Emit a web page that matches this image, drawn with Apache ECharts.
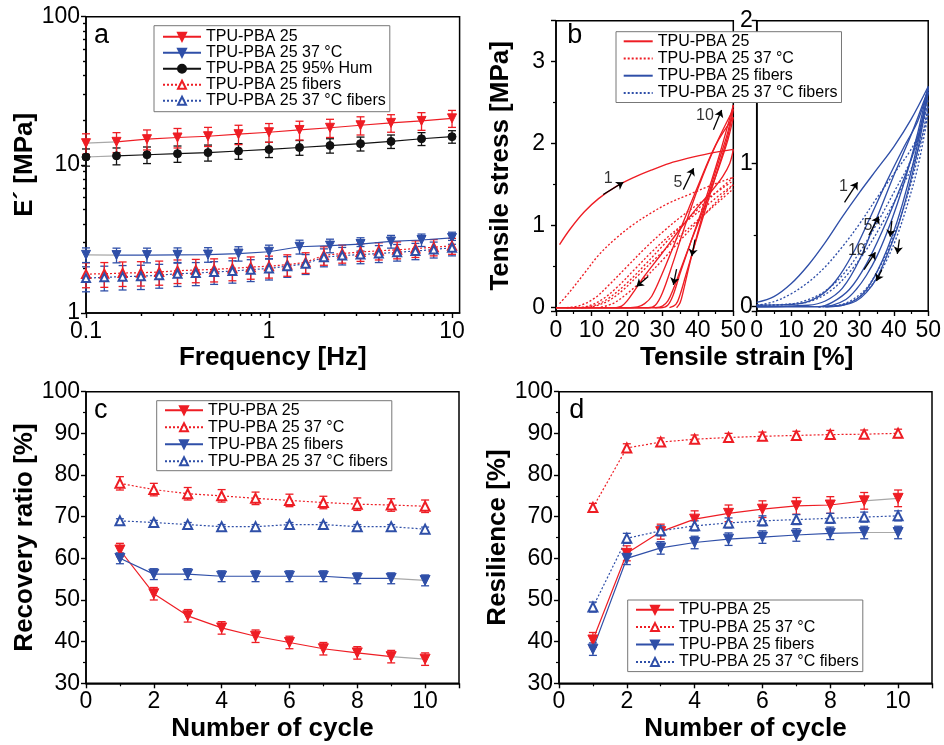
<!DOCTYPE html>
<html><head><meta charset="utf-8">
<script src="https://cdn.jsdelivr.net/npm/echarts@6/dist/echarts.min.js"></script>
<style>html,body{margin:0;padding:0;background:#fff}#c{width:944px;height:745px}</style>
</head><body><div id="c"></div>
<script>
// ---------- Panel a : E' vs frequency ----------
const freqA = [0.1, 0.1468, 0.2154, 0.3162, 0.4642, 0.6813, 1, 1.468, 2.154, 3.162, 4.642, 6.813, 10];
const freqFib = [0.1, 0.1259, 0.1585, 0.1995, 0.2512, 0.3162, 0.3981, 0.5012, 0.631, 0.7943, 1, 1.259, 1.585, 1.995, 2.512, 3.162, 3.981, 5.012, 6.31, 7.943, 10];
const aPBA25 = [14.0, 14.3, 14.9, 15.3, 15.6, 16.1, 16.6, 17.2, 17.8, 18.5, 19.2, 19.8, 20.6];
const aPBA25Err = [2.2, 2.2, 2.3, 2.3, 2.3, 2.4, 2.4, 2.5, 2.5, 2.6, 2.6, 2.7, 2.7];
const aPBA25_37 = [2.47, 2.46, 2.46, 2.47, 2.48, 2.52, 2.59, 2.80, 2.85, 2.92, 3.04, 3.11, 3.21];
const aPBA25_37Err = [0.28, 0.28, 0.28, 0.28, 0.28, 0.28, 0.28, 0.3, 0.3, 0.3, 0.3, 0.3, 0.3];
const aHum = [11.3, 11.5, 11.7, 11.9, 12.1, 12.4, 12.7, 13.1, 13.5, 13.9, 14.4, 15.0, 15.5];
const aHumErr = [1.5, 1.5, 1.5, 1.5, 1.5, 1.5, 1.5, 1.5, 1.5, 1.5, 1.5, 1.5, 1.5];
const aFib = [1.83, 1.84, 1.86, 1.87, 1.89, 1.93, 1.95, 1.97, 2.0, 2.04, 2.07, 2.12, 2.2, 2.45, 2.52, 2.58, 2.63, 2.67, 2.72, 2.78, 2.84];
const aFibErr = [0.35, 0.35, 0.35, 0.35, 0.35, 0.35, 0.35, 0.35, 0.35, 0.35, 0.35, 0.35, 0.35, 0.35, 0.35, 0.35, 0.35, 0.35, 0.35, 0.35, 0.35];
const aFib37 = [1.72, 1.74, 1.76, 1.77, 1.8, 1.84, 1.86, 1.89, 1.92, 1.96, 2.0, 2.07, 2.15, 2.38, 2.44, 2.48, 2.52, 2.57, 2.62, 2.68, 2.76];
const aFib37Err = [0.33, 0.33, 0.33, 0.33, 0.33, 0.33, 0.33, 0.33, 0.33, 0.33, 0.33, 0.33, 0.33, 0.33, 0.33, 0.33, 0.33, 0.33, 0.33, 0.33, 0.33];
const aNames = ['TPU-PBA 25', 'TPU-PBA 25 37 °C', 'TPU-PBA 25 95% Hum', 'TPU-PBA 25 fibers', 'TPU-PBA 25 37 °C fibers'];

// ---------- Panel b : cyclic tensile curves [strain %, stress MPa] ----------
const bNames = ['TPU-PBA 25', 'TPU-PBA 25 37 °C', 'TPU-PBA 25 fibers', 'TPU-PBA 25 37 °C fibers'];
const bRedLoad1 = [[1,0.77],[4,0.96],[8,1.17],[12,1.33],[17,1.48],[22,1.59],[27,1.68],[32,1.76],[37,1.82],[43,1.88],[50,1.93]];
const bRedUnload1 = [[50,1.93],[49,1.76],[47,1.6],[44,1.43],[40,1.23],[35,0.96],[30,0.67],[25,0.39],[22,0.2],[20,0.08],[18.5,0.02],[17,0]];
const bRedLoad2 = [[0,0],[20,0],[23,0.01],[25,0.05],[27,0.14],[30,0.42],[35,0.95],[40,1.48],[45,1.98],[50,2.32]];
const bRedUnload2 = [[50,2.32],[48.5,2.05],[46,1.72],[42,1.25],[38,0.8],[35,0.45],[33,0.22],[31.5,0.08],[30,0.02],[28,0]];
const bRedLoad5 = [[0,0],[26,0],[28,0.03],[30,0.18],[33,0.55],[36,0.95],[40,1.45],[45,1.98],[50,2.42]];
const bRedUnload5 = [[50,2.42],[48.5,2.1],[46,1.74],[42.5,1.25],[39,0.75],[36.5,0.38],[35,0.16],[33.8,0.04],[32,0]];
const bRedLoad10 = [[0,0],[29.5,0],[31.5,0.03],[33,0.15],[35,0.42],[38,0.8],[42,1.3],[46,1.85],[50,2.47]];
const bRedUnload10 = [[50,2.47],[48.5,2.15],[46,1.8],[43,1.38],[40,0.92],[37.5,0.5],[36,0.22],[35,0.06],[34,0]];
const bRed37Load1 = [[1,0.05],[4,0.2],[8,0.42],[12,0.64],[17,0.85],[22,1.02],[27,1.16],[32,1.28],[37,1.37],[43,1.48],[50,1.59]];
const bRed37Unload1 = [[50,1.59],[45,1.4],[40,1.2],[35,0.98],[30,0.75],[25,0.52],[20,0.3],[15,0.12],[11,0.03],[7,0]];
const bRed37Load2 = [[3,0],[7,0.03],[11,0.12],[15,0.28],[20,0.5],[25,0.72],[30,0.92],[35,1.1],[40,1.26],[45,1.4],[50,1.55]];
const bRed37Load5 = [[5,0],[9,0.02],[13,0.1],[17,0.24],[22,0.46],[27,0.68],[32,0.88],[37,1.06],[42,1.23],[46,1.37],[50,1.5]];
const bRed37Load10 = [[7,0],[11,0.02],[15,0.09],[19,0.22],[24,0.43],[29,0.64],[34,0.84],[39,1.03],[44,1.22],[50,1.45]];
const bRed37Unload5 = [[50,1.5],[45,1.28],[40,1.05],[35,0.82],[30,0.58],[25,0.36],[20,0.17],[16,0.05],[12,0]];
const bBlueLoad1 = [[0,0.03],[5,0.07],[10,0.16],[15,0.29],[20,0.45],[25,0.63],[30,0.8],[35,0.96],[40,1.12],[45,1.31],[50,1.54]];
const bBlueLoad2 = [[0,0.01],[12,0.02],[18,0.07],[23,0.18],[28,0.37],[33,0.62],[38,0.88],[43,1.12],[47,1.3],[50,1.53]];
const bBlueLoad5 = [[0,0],[15,0.01],[20,0.04],[25,0.13],[30,0.33],[35,0.62],[40,0.92],[45,1.2],[50,1.52]];
const bBlueLoad10 = [[0,0],[18,0],[22,0.03],[27,0.12],[32,0.3],[37,0.55],[42,0.84],[46,1.1],[50,1.5]];
const bBlueUnload1 = [[50,1.54],[47,1.22],[44,0.95],[41,0.72],[38,0.52],[35,0.35],[32,0.22],[29,0.12],[26,0.05],[22,0.01],[18,0]];
const bBlueUnload5 = [[50,1.52],[47,1.15],[44,0.85],[41,0.6],[38,0.4],[35,0.24],[32,0.12],[29,0.05],[25,0.01],[20,0]];
const bBlueUnload10 = [[50,1.5],[47,1.1],[44,0.8],[41,0.55],[38,0.36],[35,0.2],[32,0.1],[29,0.04],[25,0.01],[20,0]];
const bBlue37Load1 = [[0,0.01],[5,0.035],[10,0.09],[15,0.17],[20,0.28],[25,0.42],[30,0.58],[35,0.76],[40,0.93],[45,1.1],[48,1.25],[50,1.45]];
const bBlue37Load5 = [[0,0.01],[10,0.02],[15,0.05],[20,0.11],[25,0.22],[30,0.38],[35,0.58],[40,0.8],[45,1.03],[50,1.4]];
const bBlue37Load10 = [[0,0.01],[12,0.02],[17,0.05],[22,0.12],[27,0.24],[32,0.4],[37,0.6],[42,0.82],[46,1.02],[50,1.35]];
const bBlue37Unload1 = [[50,1.4],[47,1.05],[44,0.78],[41,0.56],[38,0.38],[35,0.24],[32,0.13],[28,0.05],[24,0.01],[18,0]];
const bBlue37Unload10 = [[50,1.35],[47,0.98],[44,0.72],[41,0.5],[38,0.33],[35,0.2],[32,0.11],[28,0.04],[24,0.01],[18,0]];
// annotations (cycle numbers and arrows)
const bLabelsL = [['1', 14.7, 1.57], ['5', 34.4, 1.53], ['10', 42.0, 2.34]];
const bArrowsL = [[[13.3,1.38],[19,1.53]], [[35.9,1.44],[38.8,1.70]], [[44.4,2.17],[46.7,2.41]], [[39.2,0.83],[38.3,0.63]], [[34,0.47],[33.1,0.28]], [[26,0.38],[22.7,0.26]]];
const bLabelsR = [['1', 25.3, 0.84], ['5', 32.4, 0.57], ['10', 29.2, 0.39]];
const bArrowsR = [[[25.6,0.73],[29.4,0.87]], [[32.7,0.5],[35.6,0.63]], [[31.3,0.26],[34.6,0.38]], [[39.4,0.6],[38.9,0.49]], [[41.6,0.47],[41,0.37]], [[36.5,0.26],[34.9,0.18]]];

// ---------- Panels c, d : vs number of cycle ----------
const cycles = [1, 2, 3, 4, 5, 6, 7, 8, 9, 10];
const cNames = ['TPU-PBA 25', 'TPU-PBA 25 37 °C', 'TPU-PBA 25 fibers', 'TPU-PBA 25 37 °C fibers'];
const cPBA25 = [62, 51.5, 46.2, 43.3, 41.3, 39.8, 38.3, 37.3, 36.4, 35.8];
const cPBA25Err = [1.6, 1.5, 1.5, 1.5, 1.5, 1.5, 1.5, 1.5, 1.5, 1.5];
const cPBA25_37 = [78, 76.5, 75.5, 75, 74.4, 73.9, 73.4, 73, 72.8, 72.5];
const cPBA25_37Err = [1.6, 1.5, 1.5, 1.5, 1.5, 1.5, 1.5, 1.5, 1.5, 1.5];
const cFib = [60, 56.2, 56.2, 55.7, 55.7, 55.7, 55.7, 55.2, 55.2, 54.7];
const cFibErr = [1.3, 1.3, 1.3, 1.3, 1.3, 1.3, 1.3, 1.3, 1.3, 1.3];
const cFib37 = [69, 68.6, 68.1, 67.6, 67.6, 68.1, 68.1, 67.6, 67.6, 67];
const cFib37Err = [0.5, 0.5, 0.5, 0.5, 0.5, 0.5, 0.5, 0.5, 0.5, 0.5];
const dPBA25 = [40.4, 61.2, 66.4, 69.4, 70.8, 71.8, 72.6, 72.8, 73.8, 74.4];
const dPBA25Err = [1.8, 1.8, 1.8, 2, 2, 2, 2, 2, 2, 2];
const dPBA25_37 = [72.2, 86.5, 87.9, 88.6, 89, 89.3, 89.5, 89.7, 89.8, 90];
const dPBA25_37Err = [1, 1, 1, 1, 1, 1, 1, 1, 1, 1];
const dFib = [38.2, 60, 62.5, 63.8, 64.6, 65.1, 65.6, 66, 66.2, 66.2];
const dFibErr = [1.5, 1.5, 1.5, 1.5, 1.5, 1.5, 1.5, 1.5, 1.5, 1.5];
const dFib37 = [48.3, 64.8, 66.6, 67.8, 68.5, 69, 69.3, 69.6, 69.9, 70.2];
const dFib37Err = [1.2, 1.2, 1.2, 1.2, 1.2, 1.2, 1.2, 1.2, 1.2, 1.2];

// ---------- styling / helpers ----------
const F = "'Liberation Sans', Arial, Helvetica, sans-serif";
const RED = '#ee1d24', BLUE = '#2f4fa8', BLK = '#111111', GRAY = '#a8a8a8';
const DASH = [2, 2];

function pairs(xs, ys) { return xs.map((x, i) => [x, ys[i]]); }
function triples(xs, ys, es) { return xs.map((x, i) => [x, ys[i], es[i]]); }

function errSeries(xi, yi, xs, ys, es, color) {
  return {
    type: 'custom', xAxisIndex: xi, yAxisIndex: yi, z: 2, silent: true,
    data: triples(xs, ys, es), encode: { x: 0, y: 1 },
    renderItem: function (params, api) {
      const x = api.value(0), y = api.value(1), e = api.value(2);
      const p1 = api.coord([x, y + e]), p2 = api.coord([x, y - e]);
      const cap = 4;
      const st = { stroke: color, lineWidth: 1.3 };
      return { type: 'group', children: [
        { type: 'line', shape: { x1: p1[0], y1: p1[1], x2: p2[0], y2: p2[1] }, style: st },
        { type: 'line', shape: { x1: p1[0] - cap, y1: p1[1], x2: p1[0] + cap, y2: p1[1] }, style: st },
        { type: 'line', shape: { x1: p2[0] - cap, y1: p2[1], x2: p2[0] + cap, y2: p2[1] }, style: st }
      ] };
    }
  };
}
function ptSeries(name, xi, yi, data, color, sym, rot, size, dashed) {
  return {
    type: 'line', name: name, xAxisIndex: xi, yAxisIndex: yi, data: data,
    symbol: sym, symbolRotate: rot, symbolSize: size, showSymbol: true, z: 3,
    lineStyle: { color: color, width: 1.2, type: dashed ? DASH : 'solid' },
    itemStyle: { color: color, borderColor: color, borderWidth: 1 },
    emphasis: { disabled: true }, silent: true
  };
}
function grayLine(xi, yi, data) {
  return { type: 'line', xAxisIndex: xi, yAxisIndex: yi, data: data, symbol: 'none', z: 1,
    lineStyle: { color: GRAY, width: 1.2 }, silent: true };
}
function curve(name, xi, yi, data, color, dotted) {
  return { type: 'line', name: name, xAxisIndex: xi, yAxisIndex: yi, data: data, symbol: 'none',
    smooth: 0.35, z: 3, lineStyle: { color: color, width: 1.35, type: dotted ? DASH : 'solid' },
    itemStyle: { color: color }, silent: true };
}
// main solid series with one gray connecting segment (as in the original)
function solidWithGray(name, xi, yi, xs, ys, color, sym, rot, size, grayFirst) {
  const all = pairs(xs, ys);
  const n = all.length;
  if (grayFirst) {
    return [ptSeries(name, xi, yi, all.slice(1), color, sym, rot, size, false),
      grayLine(xi, yi, all.slice(0, 2)),
      ptSeries('', xi, yi, all.slice(0, 1), color, sym, rot, size, false)];
  }
  return [ptSeries(name, xi, yi, all.slice(0, n - 1), color, sym, rot, size, false),
    grayLine(xi, yi, all.slice(n - 2)),
    ptSeries('', xi, yi, all.slice(n - 1), color, sym, rot, size, false)];
}
function annot(xi, yi, labels, arrows) {
  return {
    type: 'scatter', xAxisIndex: xi, yAxisIndex: yi, symbolSize: 1, z: 5, silent: true,
    itemStyle: { color: 'rgba(0,0,0,0)' },
    data: labels.map(l => ({ name: l[0], value: [l[1], l[2]] })),
    label: { show: true, position: 'inside', formatter: '{b}', fontSize: 16, color: '#000', fontFamily: F },
    markLine: {
      silent: true, symbol: ['none', 'arrow'], symbolSize: 7, animation: false,
      label: { show: false }, emphasis: { disabled: true },
      lineStyle: { color: '#000', width: 1.3, type: 'solid' },
      data: arrows.map(a => [{ coord: a[0] }, { coord: a[1] }])
    }
  };
}
function mkAxis(o) {
  const ax = {
    type: o.type || 'value', gridIndex: o.grid, min: o.min, max: o.max, position: o.pos,
    axisLine: { show: o.line !== false, onZero: false, lineStyle: { color: '#000', width: 1.5 } },
    axisTick: { show: true, inside: false, length: o.tickLen || 5, lineStyle: { color: '#000', width: 1.4 } },
    minorTick: { show: !!o.minor, splitNumber: 2, length: 3, lineStyle: { color: '#000', width: 1.2 } },
    axisLabel: { show: o.label !== false, color: '#000', fontSize: 23, fontFamily: F, margin: o.margin != null ? o.margin : 7 },
    splitLine: { show: false },
    name: o.name || '', nameLocation: 'middle', nameGap: o.nameGap || 30,
    nameTextStyle: { color: '#000', fontSize: 26, fontWeight: 'bold', fontFamily: F }
  };
  if (o.showMin === false) ax.axisLabel.showMinLabel = false;
  if (o.showMax === false) ax.axisLabel.showMaxLabel = false;
  if (o.interval != null) ax.interval = o.interval;
  if (o.fixInterval != null) { ax.minInterval = o.fixInterval; ax.maxInterval = o.fixInterval; }
  if (o.custom) ax.axisTick.customValues = o.custom;
  return ax;
}
function legendCfg(prefix, names, left, top, lh, iw, pad, hideSymbol) {
  const l = {
    orient: 'vertical', left: left, top: top, data: names.map(n => prefix + '|' + n),
    formatter: n => n.split('|')[1], selectedMode: false,
    itemWidth: iw, itemHeight: 10, itemGap: 0, padding: pad,
    backgroundColor: '#fff', borderColor: '#777', borderWidth: 1, z: 10,
    textStyle: { fontSize: 16, lineHeight: lh, color: '#000', fontFamily: F }
  };
  if (hideSymbol) l.itemStyle = { opacity: 0 };
  return l;
}

// minor tick positions for the log axes (in decades)
const minorX = [], minorY = [];
[-1, 0].forEach(d => { for (let m = 2; m <= 9; m++) minorX.push(d + Math.log10(m)); });
[0, 1].forEach(d => { for (let m = 2; m <= 9; m++) minorY.push(d + Math.log10(m)); });

const xAxes = [
  mkAxis({ type: 'log', grid: 0, min: 0.1, max: 11, showMax: false, name: 'Frequency [Hz]', nameGap: 32, margin: 7 }),
  mkAxis({ grid: 0, min: -1, max: Math.log10(11), pos: 'bottom', line: false, label: false, tickLen: 3, custom: minorX }),
  mkAxis({ grid: 1, min: 0, max: 50, interval: 10, minor: true, margin: 8 }),
  mkAxis({ grid: 2, min: 0, max: 50, interval: 10, minor: true, margin: 8 }),
  mkAxis({ grid: 3, min: 0, max: 11, interval: 2, minor: true, showMax: false, name: 'Number of cycle', nameGap: 33 }),
  mkAxis({ grid: 4, min: 0, max: 11, interval: 2, minor: true, showMax: false, name: 'Number of cycle', nameGap: 33 })
];
const yAxes = [
  mkAxis({ type: 'log', grid: 0, min: 1, max: 100, name: 'E´ [MPa]', nameGap: 46, margin: 6 }),
  mkAxis({ grid: 0, min: 0, max: 2, pos: 'left', line: false, label: false, tickLen: 3, custom: minorY }),
  mkAxis({ grid: 1, min: -0.04, max: 3.5, fixInterval: 1, minor: true, showMin: false, showMax: false, name: 'Tensile stress [MPa]', nameGap: 42, margin: 11 }),
  mkAxis({ grid: 2, min: -0.03, max: 2, fixInterval: 1, minor: true, showMin: false, margin: 4 }),
  mkAxis({ grid: 3, min: 30, max: 100, interval: 10, minor: true, name: 'Recovery ratio [%]', nameGap: 46, margin: 6 }),
  mkAxis({ grid: 4, min: 30, max: 100, interval: 10, minor: true, name: 'Resilience [%]', nameGap: 45, margin: 6 })
];

const series = [];
// panel a (xAxis 0, yAxis 0)
series.push(errSeries(0, 0, freqFib, aFib37, aFib37Err, BLUE));
series.push(errSeries(0, 0, freqFib, aFib, aFibErr, RED));
series.push(errSeries(0, 0, freqA, aPBA25_37, aPBA25_37Err, BLUE));
series.push(errSeries(0, 0, freqA, aHum, aHumErr, BLK));
series.push(errSeries(0, 0, freqA, aPBA25, aPBA25Err, RED));
series.push(...solidWithGray('a|' + aNames[0], 0, 0, freqA, aPBA25, RED, 'triangle', 180, 9, true));
series.push(...solidWithGray('a|' + aNames[1], 0, 0, freqA, aPBA25_37, BLUE, 'triangle', 180, 9, true));
series.push(...solidWithGray('a|' + aNames[2], 0, 0, freqA, aHum, BLK, 'circle', 0, 8, true));
series.push(ptSeries('a|' + aNames[3], 0, 0, pairs(freqFib, aFib), RED, 'emptyTriangle', 0, 8, true));
series.push(ptSeries('a|' + aNames[4], 0, 0, pairs(freqFib, aFib37), BLUE, 'emptyTriangle', 0, 8, true));

// panel b left (xAxis 2, yAxis 2) and right (xAxis 3, yAxis 3)
[bRedLoad1, bRedUnload1, bRedLoad2, bRedUnload2, bRedLoad5, bRedUnload5, bRedLoad10, bRedUnload10]
  .forEach(d => series.push(curve('b|' + bNames[0], 2, 2, d, RED, false)));
[bRed37Load1, bRed37Unload1, bRed37Load2, bRed37Load5, bRed37Load10, bRed37Unload5]
  .forEach(d => series.push(curve('b|' + bNames[1], 2, 2, d, RED, true)));
[bBlueLoad1, bBlueLoad2, bBlueLoad5, bBlueLoad10, bBlueUnload1, bBlueUnload5, bBlueUnload10]
  .forEach(d => series.push(curve('b|' + bNames[2], 3, 3, d, BLUE, false)));
[bBlue37Load1, bBlue37Load5, bBlue37Load10, bBlue37Unload1, bBlue37Unload10]
  .forEach(d => series.push(curve('b|' + bNames[3], 3, 3, d, BLUE, true)));
series.push(annot(2, 2, bLabelsL, bArrowsL));
series.push(annot(3, 3, bLabelsR, bArrowsR));

// panel c (xAxis 4, yAxis 4)
series.push(errSeries(4, 4, cycles, cPBA25, cPBA25Err, RED));
series.push(errSeries(4, 4, cycles, cPBA25_37, cPBA25_37Err, RED));
series.push(errSeries(4, 4, cycles, cFib, cFibErr, BLUE));
series.push(errSeries(4, 4, cycles, cFib37, cFib37Err, BLUE));
series.push(...solidWithGray('c|' + cNames[0], 4, 4, cycles, cPBA25, RED, 'triangle', 180, 10, false));
series.push(ptSeries('c|' + cNames[1], 4, 4, pairs(cycles, cPBA25_37), RED, 'emptyTriangle', 0, 9, true));
series.push(...solidWithGray('c|' + cNames[2], 4, 4, cycles, cFib, BLUE, 'triangle', 180, 10, false));
series.push(ptSeries('c|' + cNames[3], 4, 4, pairs(cycles, cFib37), BLUE, 'emptyTriangle', 0, 9, true));

// panel d (xAxis 5, yAxis 5)
series.push(errSeries(5, 5, cycles, dPBA25, dPBA25Err, RED));
series.push(errSeries(5, 5, cycles, dPBA25_37, dPBA25_37Err, RED));
series.push(errSeries(5, 5, cycles, dFib, dFibErr, BLUE));
series.push(errSeries(5, 5, cycles, dFib37, dFib37Err, BLUE));
series.push(...solidWithGray('d|' + cNames[0], 5, 5, cycles, dPBA25, RED, 'triangle', 180, 10, false));
series.push(ptSeries('d|' + cNames[1], 5, 5, pairs(cycles, dPBA25_37), RED, 'emptyTriangle', 0, 9, true));
series.push(...solidWithGray('d|' + cNames[2], 5, 5, cycles, dFib, BLUE, 'triangle', 180, 10, false));
series.push(ptSeries('d|' + cNames[3], 5, 5, pairs(cycles, dFib37), BLUE, 'emptyTriangle', 0, 9, true));

function letter(t, x, y) {
  return { type: 'text', x: x, y: y, z: 20,
    style: { text: t, fill: '#000', fontSize: 27, fontFamily: F, textVerticalAlign: 'middle', verticalAlign: 'middle' } };
}

const option = {
  animation: false,
  backgroundColor: '#fff',
  textStyle: { fontFamily: F },
  grid: [
    { left: 86, top: 16.7, width: 373.6, height: 296.3, show: true, borderColor: '#000', borderWidth: 1.5 },
    { left: 556, top: 20.7, width: 177.3, height: 290.3, show: true, borderColor: '#000', borderWidth: 1.5 },
    { left: 756.7, top: 20.7, width: 175.6, height: 290.3, show: true, borderColor: '#000', borderWidth: 1.5 },
    { left: 86, top: 391.7, width: 373, height: 291.6, show: true, borderColor: '#000', borderWidth: 1.5 },
    { left: 559, top: 391.7, width: 373, height: 291.6, show: true, borderColor: '#000', borderWidth: 1.5 }
  ],
  xAxis: xAxes,
  yAxis: yAxes,
  legend: [
    legendCfg('a', aNames, 154, 25.7, 14.7, 38, [3, 4, 3, 8], false),
    legendCfg('b', bNames, 616, 31.7, 17.2, 29, [1, 4, 1, 6.7], true),
    legendCfg('c', cNames, 156.7, 400.7, 17, 38, [1, 4, 1, 7.3], false),
    legendCfg('d', cNames, 627.7, 600, 17.4, 38, [1, 4, 1, 7.3], false)
  ],
  graphic: [
    letter('a', 94, 35.3), letter('b', 567.3, 36), letter('c', 94, 410.3), letter('d', 569.3, 410.3),
    { type: 'text', x: 746.7, y: 345, z: 20,
      style: { text: 'Tensile strain [%]', fill: '#000', fontSize: 26, fontWeight: 'bold', fontFamily: F,
        textAlign: 'center', align: 'center', textVerticalAlign: 'top', verticalAlign: 'top' } }
  ],
  series: series
};

const chart = echarts.init(document.getElementById('c'), null, { renderer: 'canvas' });
chart.setOption(option);
</script>
</body></html>
